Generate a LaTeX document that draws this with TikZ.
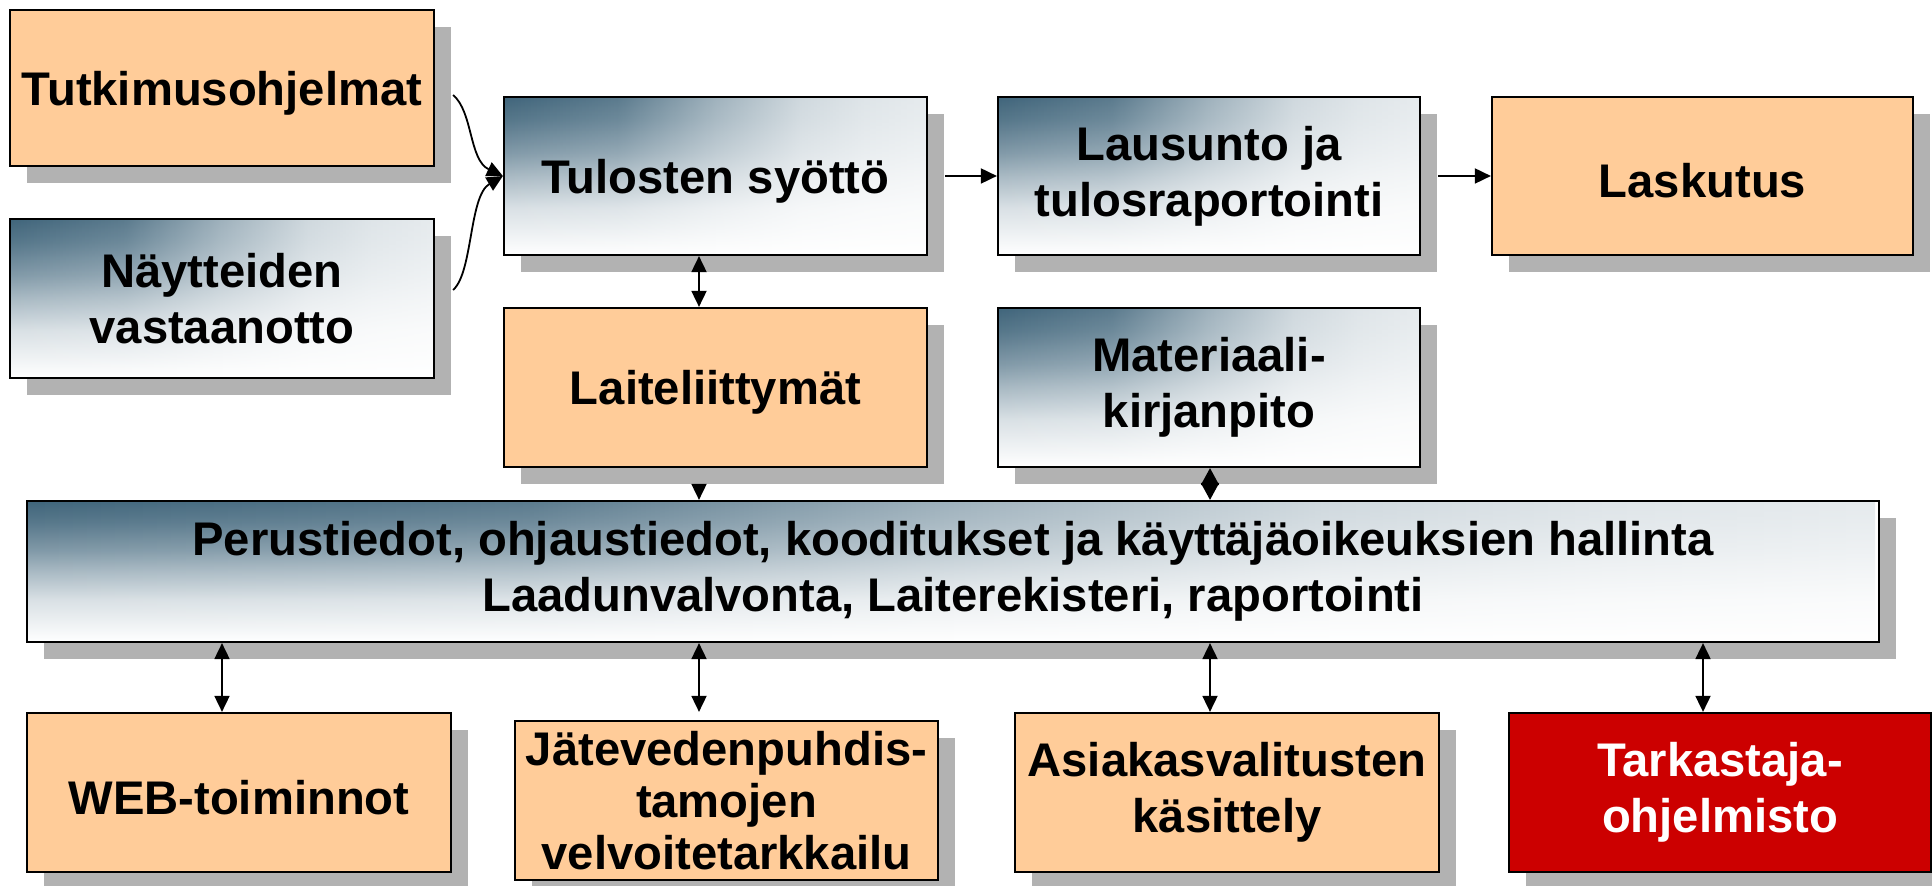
\documentclass[tikz,border=0pt]{standalone}
\usepackage{fontspec}
\setmainfont{Liberation Sans}
\usetikzlibrary{arrows.meta,shadows,calc,fadings}
\definecolor{peach}{HTML}{FFCC99}
\definecolor{alarmred}{HTML}{CC0000}
\definecolor{shadowgray}{HTML}{B2B2B2}
\definecolor{gA}{HTML}{40657B}
\colorlet{gV1}{gA!20!white}
\colorlet{gV2}{gA!45!white}
\colorlet{gV3}{gA!66!white}
\colorlet{gV4}{gA!88!white}
\colorlet{fA}{white!86!black}
\colorlet{fB}{white!50!black}
\colorlet{fC}{white!25!black}
\colorlet{fD}{white!17!black}
\colorlet{fE}{white!13!black}
\pgfdeclareverticalshading{vshade}{100bp}{color(0bp)=(white); color(25bp)=(white); color(40bp)=(gV1); color(50bp)=(gV2); color(57.5bp)=(gV3); color(67.5bp)=(gV4); color(75bp)=(gA); color(100bp)=(gA)}
\pgfdeclarehorizontalshading{hfadeshade}{100bp}{color(0bp)=(white); color(25bp)=(white); color(38.5bp)=(fA); color(50bp)=(fB); color(60bp)=(fC); color(67.5bp)=(fD); color(75bp)=(fE); color(100bp)=(fE)}
\pgfdeclarefading{hfade}{\pgfuseshading{hfadeshade}}
\tikzset{
  box/.style={draw=black, line width=1.1pt, inner sep=0pt, align=center,
    font=\fontsize{23.6}{28}\selectfont\bfseries,
    execute at begin node={\rule{0pt}{22pt}},
    drop shadow={shadow xshift=8.5pt, shadow yshift=-8.5pt, fill=shadowgray, opacity=1, draw=none}},
  orangebox/.style={box, fill=peach},
  gradbox/.style={box, fill=white, path picture={
      \shade[shading=vshade, path fading=hfade, fit fading=true]
        (path picture bounding box.south west) rectangle (path picture bounding box.north east);}},
  alarmbox/.style={box, fill=alarmred, text=white},
  conn/.style={line width=0.9pt, -{Triangle[length=8pt,width=7.5pt]}},
  conntwo/.style={line width=0.9pt, {Triangle[length=8pt,width=7.5pt]}-{Triangle[length=8pt,width=7.5pt]}},
  diam/.style={line width=0.9pt, {Triangle[length=8.5pt,width=9pt]}-{Triangle[length=8.5pt,width=9pt]}},
}
\begin{document}
\begin{tikzpicture}[x=0.5pt,y=-0.5pt]
\useasboundingbox (0,0) rectangle (1932,886);
% top rows
\node[orangebox, minimum width=212pt, minimum height=78pt] (tut) at (222,88) {Tutkimusohjelmat};
\node[gradbox, minimum width=212pt, minimum height=79.5pt] (nay) at (222,298.5) {Näytteiden\\vastaanotto};
\node[gradbox, minimum width=211.5pt, minimum height=79pt] (tul) at (715.5,176) {Tulosten syöttö};
\node[gradbox, minimum width=211pt, minimum height=79pt] (lau) at (1209,176) {Lausunto ja\\tulosraportointi};
\node[orangebox, minimum width=210.5pt, minimum height=79pt] (las) at (1702.5,176) {Laskutus};
\node[orangebox, minimum width=211.5pt, minimum height=79.5pt] (lai) at (715.5,387.5) {Laiteliittymät};
\node[gradbox, minimum width=211pt, minimum height=79.5pt] (mat) at (1209,387.5) {Materiaali-\\kirjanpito};
% main bar
\node[gradbox, minimum width=926pt, minimum height=70.5pt] (per) at (953,571.5) {Perustiedot, ohjaustiedot, kooditukset ja käyttäjäoikeuksien hallinta\\Laadunvalvonta, Laiterekisteri, raportointi};
% bottom row
\node[orangebox, minimum width=212pt, minimum height=79.5pt] (web) at (239,792.5) {WEB-toiminnot};
\node[orangebox, minimum width=211.5pt, minimum height=79.5pt, font=\fontsize{23.6}{26}\selectfont\bfseries, execute at begin node={}] (jat) at (726.5,800.5) {Jätevedenpuhdis-\\tamojen\\velvoitetarkkailu};
\node[orangebox, minimum width=212pt, minimum height=79.5pt] (asi) at (1227,792.5) {Asiakasvalitusten\\käsittely};
\node[alarmbox, minimum width=211pt, minimum height=79.5pt] (tar) at (1720,792.5) {Tarkastaja-\\ohjelmisto};
% connector columns
\coordinate (cA) at (699,0);
\coordinate (cB) at (1210,0);
\coordinate (b1) at (222,0);
\coordinate (b2) at (699,0);
\coordinate (b3) at (1210,0);
\coordinate (b4) at (1703,0);
% connectors
\draw[conn] ([shift={(18,7)}]tut.east) .. controls +(20,17) and +(-34,-16) .. (tul.west);
\draw[conn] ([shift={(18,-8.5)}]nay.east) .. controls +(20,-18) and +(-34,20) .. (tul.west);
\draw[conn, shorten <=8.5pt] (tul.east) -- (lau.west);
\draw[conn, shorten <=8.5pt] (lau.east) -- (las.west);
\draw[conntwo] (cA |- tul.south) -- (cA |- lai.north);
\draw[conn, shorten <=8.5pt] (cA |- lai.south) -- (cA |- per.north);
\draw[diam] (cB |- mat.south) -- (cB |- per.north);
\draw[conntwo] (b1 |- per.south) -- (b1 |- web.north);
\draw[conntwo, shorten >=4pt] (b2 |- per.south) -- (b2 |- jat.north);
\draw[conntwo] (b3 |- per.south) -- (b3 |- asi.north);
\draw[conntwo] (b4 |- per.south) -- (b4 |- tar.north);
\end{tikzpicture}
\end{document}
